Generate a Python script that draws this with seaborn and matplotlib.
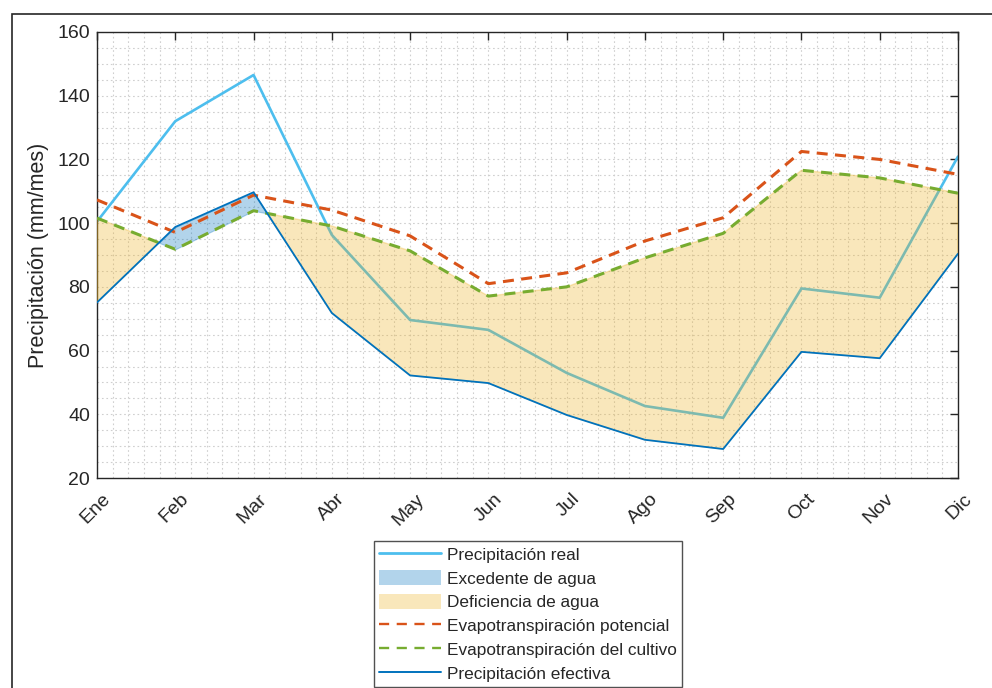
import numpy as np
import pandas as pd
import matplotlib
matplotlib.use("Agg")
import matplotlib.pyplot as plt
import matplotlib.transforms as mtransforms
import seaborn as sns
from matplotlib.lines import Line2D
from matplotlib.patches import Patch, Rectangle
from matplotlib.ticker import MultipleLocator

# Monthly water balance (mm/mes)
meses = ["Ene", "Feb", "Mar", "Abr", "May", "Jun", "Jul", "Ago", "Sep", "Oct", "Nov", "Dic"]
precip_real = [100.5, 132.0, 146.5, 96.3, 69.6, 66.5, 53.0, 42.6, 38.9, 79.5, 76.6, 120.9]
precip_efectiva = [75.1, 98.8, 109.7, 71.8, 52.2, 49.8, 39.8, 32.0, 29.1, 59.6, 57.6, 90.4]
etp = [107.3, 97.1, 108.8, 104.1, 96.0, 81.0, 84.4, 94.4, 101.7, 122.5, 120.0, 115.3]
etc = [101.6, 91.8, 103.9, 99.1, 91.3, 77.1, 80.0, 89.1, 96.8, 116.6, 114.2, 109.4]

C_REAL = "#4DBEEE"
C_EF = "#0072BD"
C_ETP = "#D95319"
C_ETC = "#77AC30"
C_DEF = "#EDB120"
C_TXT = "#262626"

sns.set_style("white")
plt.rcParams["font.family"] = ["Liberation Sans", "DejaVu Sans"]

df = pd.DataFrame({
    "mes": np.arange(len(meses)),
    "real": precip_real,
    "efectiva": precip_efectiva,
    "etp": etp,
    "etc": etc,
})

fig = plt.figure(figsize=(9.92, 6.88), dpi=100)
ax = fig.add_axes([0.0978, 0.3052, 0.8679, 0.6483])

x = df["mes"].to_numpy(dtype=float)
ef = df["efectiva"].to_numpy()
ec = df["etc"].to_numpy()

sns.lineplot(data=df, x="mes", y="real", ax=ax, color=C_REAL, lw=1.9, zorder=2)

ax.fill_between(x, ec, ef, where=ec >= ef, interpolate=True,
                facecolor=C_DEF, alpha=0.3, edgecolor=C_DEF, lw=1.0, zorder=3)
ax.fill_between(x, ec, ef, where=ef > ec, interpolate=True,
                facecolor=C_EF, alpha=0.3, edgecolor=C_EF, lw=0.8, zorder=3)

sns.lineplot(data=df, x="mes", y="etp", ax=ax, color=C_ETP, lw=2.2, zorder=4)
sns.lineplot(data=df, x="mes", y="etc", ax=ax, color=C_ETC, lw=2.2, zorder=5)
sns.lineplot(data=df, x="mes", y="efectiva", ax=ax, color=C_EF, lw=1.3, zorder=6)
for ln in ax.lines[1:3]:
    ln.set_dashes([3.6, 2.4])

ax.set_xlim(0, 11)
ax.set_ylim(20, 160)
ax.set_xticks(x)
ax.set_xticklabels(meses, rotation=45, ha="right", rotation_mode="anchor", fontsize=14)
ax.yaxis.set_major_locator(MultipleLocator(20))
ax.yaxis.set_minor_locator(MultipleLocator(5))
ax.xaxis.set_minor_locator(MultipleLocator(0.2))
ax.tick_params(axis="both", which="major", direction="in", length=6, width=1,
               top=True, right=True, labelsize=14, colors=C_TXT, pad=5)
ax.tick_params(axis="x", which="major", pad=9)
ax.tick_params(axis="both", which="minor", length=0)
shift = mtransforms.ScaledTranslation(5 / 100, 0, fig.dpi_scale_trans)
for lbl in ax.get_xticklabels():
    lbl.set_transform(lbl.get_transform() + shift)

ax.grid(True, which="both", color="#cfcfcf", linestyle=(0, (1.5, 2.5)), lw=0.8)
ax.set_axisbelow(True)
for sp in ax.spines.values():
    sp.set_color(C_TXT)
    sp.set_linewidth(1.0)

ax.set_xlabel("")
ax.set_ylabel("Precipitación (mm/mes)", fontsize=15.5, color=C_TXT, labelpad=6)

handles = [
    Line2D([], [], color=C_REAL, lw=2.0),
    Patch(facecolor=C_EF, alpha=0.3, edgecolor="none"),
    Patch(facecolor=C_DEF, alpha=0.3, edgecolor="none"),
    Line2D([], [], color=C_ETP, lw=1.7, dashes=[4.3, 3.2]),
    Line2D([], [], color=C_ETC, lw=1.7, dashes=[4.3, 3.2]),
    Line2D([], [], color=C_EF, lw=1.4),
]
labels = [
    "Precipitación real",
    "Excedente de agua",
    "Deficiencia de agua",
    "Evapotranspiración potencial",
    "Evapotranspiración del cultivo",
    "Precipitación efectiva",
]
leg = fig.legend(handles, labels, loc="upper center", bbox_to_anchor=(0.532, 0.2137),
                 fontsize=12.4, frameon=True, fancybox=False, edgecolor=C_TXT,
                 handlelength=3.6, handleheight=1.0, handletextpad=0.35,
                 labelspacing=0.42, borderpad=0.3, borderaxespad=0)
leg.get_frame().set_linewidth(1.0)

# outer frame
fig.patches.append(Rectangle((12 / 992, -0.05), 1.1, 0.9797 + 0.05,
                             transform=fig.transFigure, fill=False,
                             edgecolor=C_TXT, lw=1.2))

fig.savefig("out.png", dpi=100)
